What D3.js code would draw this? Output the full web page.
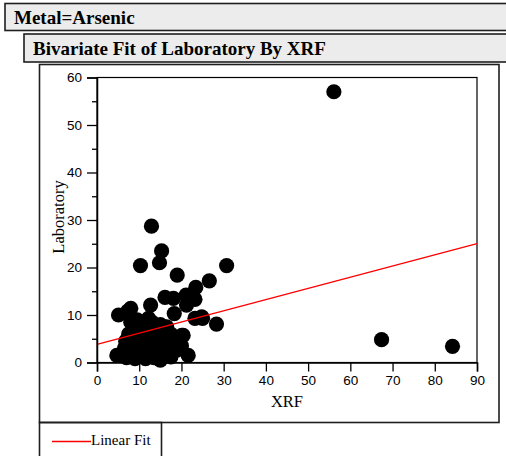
<!DOCTYPE html>
<html>
<head>
<meta charset="utf-8">
<script src="https://cdn.jsdelivr.net/npm/d3@7"></script>
<style>
  html, body { margin: 0; padding: 0; background: #fff; overflow: hidden; }
  svg { display: block; }
</style>
</head>
<body>
<script>
// Arsenic readings: XRF field value vs. laboratory value
const xrf = [56.1, 67.4, 84.2, 12.9, 15.3, 14.8, 10.3, 30.7, 19.0, 26.6,
             23.4, 21.1, 23.2, 16.1, 12.7, 18.3, 23.2, 25.0, 28.3, 5.1,
             8.0, 12.2, 20.4, 21.6, 18.9, 4.7, 21.2, 7.3, 9.5, 11.0,
             14.0, 16.0, 17.5, 13.0, 7.5, 8.5, 6.5, 9.0, 10.5, 12.0,
             14.5, 16.0, 7.0, 9.0, 11.5, 13.5, 15.0, 11.0, 15.5, 18.0,
             6.0, 10.0, 12.5, 16.5, 20.0, 17.0, 8.0, 24.8, 20.1, 18.1,
             8.5, 10.0, 12.5, 14.0, 11.5, 9.5, 13.0, 15.0, 6.8, 17.5];
const lab = [57.0, 4.8, 3.4, 28.7, 23.5, 21.0, 20.4, 20.4, 18.4, 17.2,
             15.8, 14.2, 13.3, 13.7, 12.1, 10.3, 9.3, 9.3, 8.1, 10.0,
             11.4, 9.3, 5.7, 1.5, 2.6, 1.5, 12.1, 10.8, 9.0, 8.2,
             7.0, 6.5, 6.0, 5.0, 6.0, 5.0, 3.0, 3.5, 2.0, 3.0,
             2.5, 1.5, 1.0, 0.8, 0.8, 1.0, 0.5, 5.5, 4.0, 4.5,
             1.8, 6.8, 7.2, 7.5, 3.5, 2.8, 8.5, 9.6, 5.7, 13.5,
             2.0, 4.0, 4.5, 4.0, 6.8, 7.0, 8.5, 8.0, 4.5, 1.2];

// Fitted line: Laboratory = intercept + slope * XRF
const fitIntercept = 3.8;
const fitSlope = 0.236;

const xTicks = [0, 10, 20, 30, 40, 50, 60, 70, 80, 90];
const yTicks = [0, 10, 20, 30, 40, 50, 60];
const yMinorTicks = [5, 15, 25, 35, 45, 55];

const W = 506, H = 456;
const svg = d3.select("body").append("svg").attr("width", W).attr("height", H);

const serif = "'Liberation Serif', 'Times New Roman', serif";
const sans = "'Liberation Sans', Arial, sans-serif";

// Outline report header bars
function headerBar(x, y, h, text) {
  svg.append("rect").attr("x", x).attr("y", y).attr("width", W + 20 - x).attr("height", h)
    .attr("fill", "#ececec").attr("stroke", "#1e1e1e").attr("stroke-width", 1.6);
  svg.append("text").attr("x", x + 9).attr("y", y + h / 2 + 6.5)
    .attr("font-family", serif).attr("font-weight", "bold").attr("font-size", 19)
    .attr("fill", "#000").text(text);
}
headerBar(5, 3.5, 27, "Metal=Arsenic");
headerBar(24, 34, 28, "Bivariate Fit of Laboratory By XRF");

// Report frame and legend frame
svg.append("rect").attr("x", 39.5).attr("y", 64.5).attr("width", 459.5).attr("height", 358)
  .attr("fill", "none").attr("stroke", "#1e1e1e").attr("stroke-width", 1.6);
svg.append("rect").attr("x", 39.5).attr("y", 422.5).attr("width", 122).attr("height", 40)
  .attr("fill", "none").attr("stroke", "#1e1e1e").attr("stroke-width", 1.6);

// Plot area
const x = d3.scaleLinear().domain([0, 90]).range([97, 477]);
const y = d3.scaleLinear().domain([0, 60]).range([362.5, 77.5]);

const plot = svg.append("g");
plot.append("rect").attr("x", x(0)).attr("y", y(60)).attr("width", x(90) - x(0)).attr("height", y(0) - y(60))
  .attr("fill", "#fff").attr("stroke", "#000").attr("stroke-width", 1.2);

// Points
plot.append("g").selectAll("circle").data(xrf.map((v, i) => [v, lab[i]])).join("circle")
  .attr("cx", d => x(d[0])).attr("cy", d => y(d[1])).attr("r", 7.6).attr("fill", "#000");

// Linear fit
plot.append("line")
  .attr("x1", x(0)).attr("y1", y(fitIntercept))
  .attr("x2", x(90)).attr("y2", y(fitIntercept + fitSlope * 90))
  .attr("stroke", "#ff0000").attr("stroke-width", 1.3);

// Axes
const xAxis = d3.axisBottom(x).tickValues(xTicks).tickSize(9).tickPadding(4).tickFormat(d3.format("d"));
const gx = svg.append("g").attr("transform", `translate(0,${y(0)})`).call(xAxis);
gx.select(".domain").attr("stroke", "#000").attr("stroke-width", 1.5);
gx.selectAll(".tick line").attr("stroke", "#000").attr("stroke-width", 1.3);
gx.selectAll("text").attr("font-family", sans).attr("font-size", 13.5).attr("fill", "#000");

const yAxis = d3.axisLeft(y).tickValues(yTicks).tickSize(10).tickPadding(5).tickFormat(d3.format("d"));
const gy = svg.append("g").attr("transform", `translate(${x(0)},0)`).call(yAxis);
gy.select(".domain").attr("stroke", "#000").attr("stroke-width", 1.5);
gy.selectAll(".tick line").attr("stroke", "#000").attr("stroke-width", 1.3);
gy.selectAll("text").attr("font-family", sans).attr("font-size", 13.5).attr("fill", "#000");

const yMinor = d3.axisLeft(y).tickValues(yMinorTicks).tickSize(5).tickFormat("");
const gym = svg.append("g").attr("transform", `translate(${x(0)},0)`).call(yMinor);
gym.select(".domain").remove();
gym.selectAll(".tick line").attr("stroke", "#000").attr("stroke-width", 1.3);

// Axis titles
svg.append("text").attr("x", (x(0) + x(90)) / 2).attr("y", 407).attr("text-anchor", "middle")
  .attr("font-family", serif).attr("font-size", 16.5).attr("fill", "#000").text("XRF");
svg.append("text").attr("transform", `translate(63.5,${(y(0) + y(60)) / 2 - 3}) rotate(-90)`)
  .attr("text-anchor", "middle").attr("font-family", serif).attr("font-size", 16.5).attr("fill", "#000")
  .text("Laboratory");

// Legend
svg.append("line").attr("x1", 52).attr("x2", 91).attr("y1", 441.5).attr("y2", 441.5)
  .attr("stroke", "#ff0000").attr("stroke-width", 1.3);
svg.append("text").attr("x", 91).attr("y", 445).attr("font-family", serif).attr("font-size", 15)
  .attr("fill", "#000").text("Linear Fit");
</script>
</body>
</html>
